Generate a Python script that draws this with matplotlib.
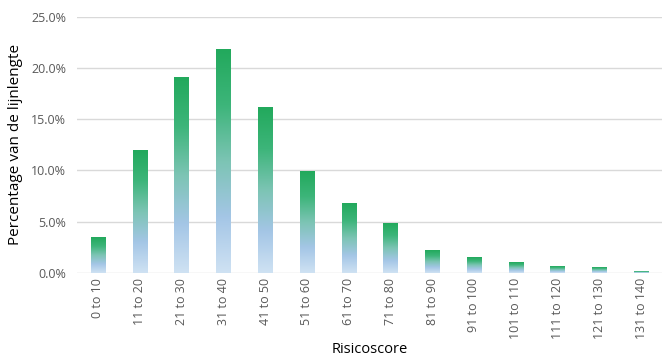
import numpy as np
import matplotlib.pyplot as plt
from matplotlib.colors import LinearSegmentedColormap
from matplotlib.ticker import FuncFormatter

plt.rcParams["font.family"] = ["Open Sans", "DejaVu Sans"]

categories = ["0 to 10", "11 to 20", "21 to 30", "31 to 40", "41 to 50", "51 to 60",
              "61 to 70", "71 to 80", "81 to 90", "91 to 100", "101 to 110",
              "111 to 120", "121 to 130", "131 to 140"]
values = [3.5, 12.0, 19.1, 21.8, 16.2, 9.9, 6.8, 4.8, 2.2, 1.5, 1.0, 0.6, 0.5, 0.1]

# gradient bottom -> top
grad = LinearSegmentedColormap.from_list(
    "bar", ["#cfe2f3", "#a4c6e6", "#7cc4b4", "#3db57a", "#22a95c"])

fig = plt.figure(figsize=(6.7, 3.59), dpi=100)
ax = fig.add_axes([0.115, 0.240, 0.873, 0.713])

x = np.arange(len(categories))
width = 0.34
bars = ax.bar(x, values, width=width, color="none", zorder=3)
g = np.linspace(0, 1, 256).reshape(-1, 1)
for b in bars:
    x0, h = b.get_x(), b.get_height()
    ax.imshow(g, cmap=grad, origin="lower", aspect="auto",
              extent=[x0, x0 + width, 0, h], zorder=3)

ax.set_xlim(-0.5, len(categories) - 0.5)
ax.set_ylim(0, 25)
ax.set_yticks(np.arange(0, 26, 5))
ax.yaxis.set_major_formatter(FuncFormatter(lambda v, p: f"{v:.1f}%"))
ax.grid(axis="y", color="#d9d9d9", linewidth=1, zorder=0)
for s in ax.spines.values():
    s.set_visible(False)
ax.tick_params(length=0, colors="#595959", labelsize=9)
ax.tick_params(axis="y", pad=8)
ax.set_xticks(x)
ax.set_xticklabels(categories, rotation=90)
ax.set_ylabel("Percentage van de lijnlengte", fontsize=11, color="#000000", labelpad=6)
ax.set_xlabel("Risicoscore", fontsize=10.5, color="#000000", labelpad=2)

fig.savefig("out.png", dpi=100)
